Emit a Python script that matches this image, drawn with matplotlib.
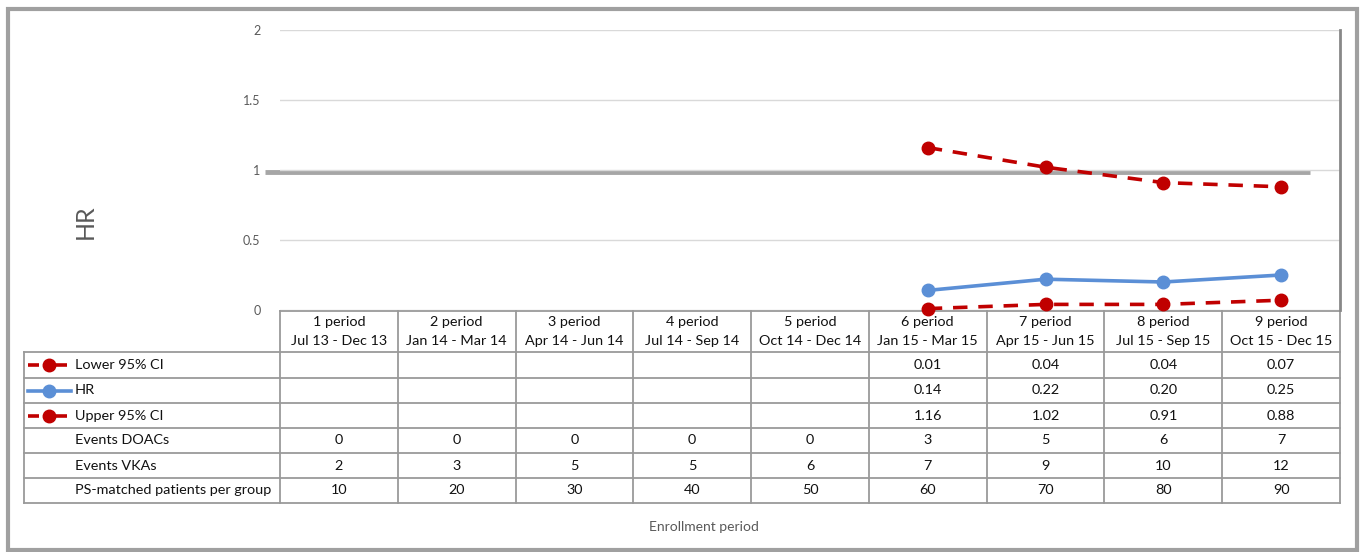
import matplotlib
matplotlib.use("Agg")
import matplotlib.pyplot as plt
import numpy as np

plt.rcParams['font.family'] = ['Lato', 'DejaVu Sans']

periods = ["1 period", "2 period", "3 period", "4 period", "5 period",
           "6 period", "7 period", "8 period", "9 period"]
dates = ["Jul 13 - Dec 13", "Jan 14 - Mar 14", "Apr 14 - Jun 14", "Jul 14 - Sep 14",
         "Oct 14 - Dec 14", "Jan 15 - Mar 15", "Apr 15 - Jun 15", "Jul 15 - Sep 15",
         "Oct 15 - Dec 15"]
lower_ci = [None, None, None, None, None, 0.01, 0.04, 0.04, 0.07]
hr = [None, None, None, None, None, 0.14, 0.22, 0.20, 0.25]
upper_ci = [None, None, None, None, None, 1.16, 1.02, 0.91, 0.88]
events_doacs = [0, 0, 0, 0, 0, 3, 5, 6, 7]
events_vkas = [2, 3, 5, 5, 6, 7, 9, 10, 12]
patients = [10, 20, 30, 40, 50, 60, 70, 80, 90]
yticks = [0, 0.5, 1, 1.5, 2]
ref_value = 0.985

W, H = 1361, 552
fig = plt.figure(figsize=(W / 100, H / 100), dpi=100)

# overlay axes in pixel coordinates
bg = fig.add_axes([0, 0, 1, 1])
bg.set_xlim(0, W)
bg.set_ylim(H, 0)
bg.axis('off')

RED = '#C00000'
BLUE = '#5B8FD6'
GRID = '#9A9A9A'
TXT = '#111111'

# outer frame
bg.add_patch(plt.Rectangle((8, 8.5), 1349, 541, fill=False, edgecolor='#A0A0A0', lw=3))

# plot area
x0, x1, ytop, ybot = 280, 1340, 30, 310
ax = fig.add_axes([x0 / W, 1 - ybot / H, (x1 - x0) / W, (ybot - ytop) / H])
n = len(periods)
xs = np.arange(n)
ax.set_xlim(-0.5, n - 0.5)
ax.set_ylim(0, 2)
ax.set_yticks(yticks)
ax.set_yticklabels([f"{v:g}" for v in yticks])
ax.yaxis.grid(True, color='#D9D9D9', lw=1)
ax.set_axisbelow(True)
ax.tick_params(axis='y', length=0, pad=14, labelsize=9, labelcolor='#595959')
ax.tick_params(axis='x', length=0, labelbottom=False)
for s in ['top', 'left', 'bottom']:
    ax.spines[s].set_visible(False)
ax.spines['right'].set_color('#888888')
ax.spines['right'].set_linewidth(2)
ax.set_facecolor('none')


def mk(vals):
    return np.array([np.nan if v is None else v for v in vals], dtype=float)


ax.plot(xs, mk(upper_ci), color=RED, lw=2.6, ls=(0, (4, 3)), marker='o', ms=9, zorder=4)
ax.plot(xs, mk(lower_ci), color=RED, lw=2.6, ls=(0, (4, 3)), marker='o', ms=9, zorder=4, clip_on=False)
ax.plot(xs, mk(hr), color=BLUE, lw=2.6, marker='o', ms=9, zorder=4)

# reference line near 1 (drawn shape)
ref_y = ybot - ref_value / 2 * (ybot - ytop)
bg.plot([265, 1310], [ref_y, ref_y], color='#A6A6A6', lw=3.5, zorder=3, solid_capstyle='butt')

# table
col_w = (x1 - x0) / n
row_edges = [311, 352, 378, 403, 428, 453, 478, 503]
tl = 24
lw = 1.3
bg.plot([x0, x1], [row_edges[0], row_edges[0]], color=GRID, lw=lw)
for i in range(n + 1):
    xx = x0 + i * col_w
    bg.plot([xx, xx], [row_edges[0], row_edges[-1]], color=GRID, lw=lw)
for r in row_edges[1:]:
    bg.plot([tl, x1], [r, r], color=GRID, lw=lw)
bg.plot([tl, tl], [row_edges[1], row_edges[-1]], color=GRID, lw=lw)

fs = 10.4
for i in range(n):
    cx = x0 + (i + 0.5) * col_w
    bg.text(cx, 322, periods[i], ha='center', va='center', fontsize=fs, color=TXT)
    bg.text(cx, 341, dates[i], ha='center', va='center', fontsize=fs, color=TXT)

row_labels = ["Lower 95% CI", "HR", "Upper 95% CI", "Events DOACs", "Events VKAs",
              "PS-matched patients per group"]
row_data = [
    [None if v is None else f"{v:.2f}" for v in lower_ci],
    [None if v is None else f"{v:.2f}" for v in hr],
    [None if v is None else f"{v:.2f}" for v in upper_ci],
    [str(v) for v in events_doacs],
    [str(v) for v in events_vkas],
    [str(v) for v in patients],
]
keys = [(RED, True), (BLUE, False), (RED, True), None, None, None]
for r in range(6):
    cy = (row_edges[r + 1] + row_edges[r + 2]) / 2
    bg.text(75, cy, row_labels[r], ha='left', va='center', fontsize=fs, color=TXT)
    if keys[r] is not None:
        c, dashed = keys[r]
        if dashed:
            bg.plot([28, 39], [cy, cy], color=c, lw=2.6, solid_capstyle='butt')
            bg.plot([45, 67], [cy, cy], color=c, lw=2.6, solid_capstyle='butt')
        else:
            bg.plot([28, 71], [cy, cy], color=c, lw=2.6)
        bg.plot([49], [cy], marker='o', ms=9, color=c)
    for i in range(n):
        v = row_data[r][i]
        if v is not None:
            bg.text(x0 + (i + 0.5) * col_w, cy, v, ha='center', va='center', fontsize=fs, color=TXT)

bg.text(704, 527, "Enrollment period", ha='center', va='center', fontsize=10, color='#595959')
bg.text(85, 222, "HR", ha='center', va='center', fontsize=18, color='#595959', rotation=90)

fig.savefig("out.png", dpi=100)
